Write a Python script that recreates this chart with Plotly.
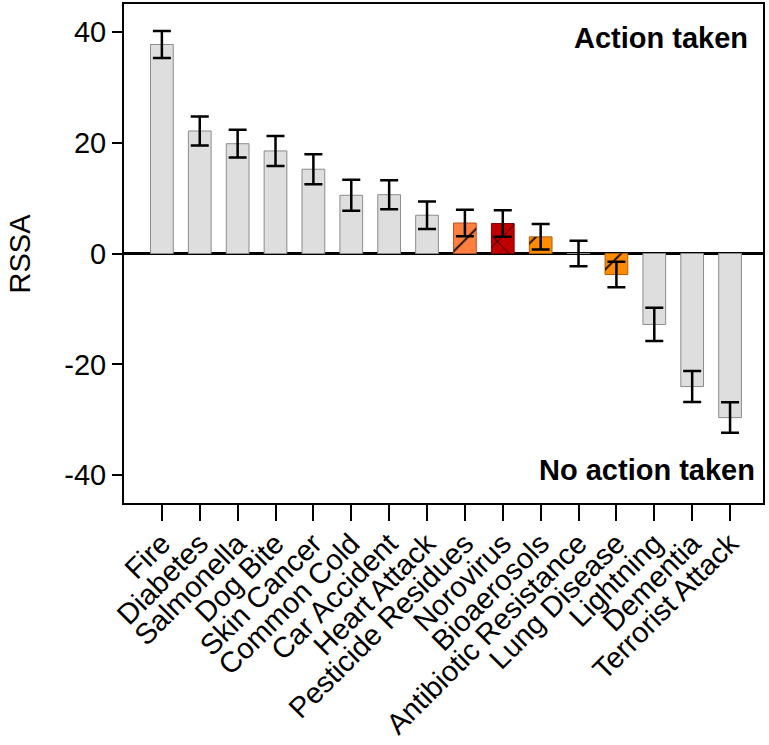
import plotly.graph_objects as go

categories = ["Fire", "Diabetes", "Salmonella", "Dog Bite", "Skin Cancer", "Common Cold",
              "Car Accident", "Heart Attack", "Pesticide Residues", "Norovirus", "Bioaerosols",
              "Antibiotic Resistance", "Lung Disease", "Lightning", "Dementia", "Terrorist Attack"]
values = [37.7, 22.1, 19.8, 18.5, 15.2, 10.5, 10.6, 6.9, 5.5, 5.4, 3.0, 0.0, -3.8, -12.8, -24.0, -29.6]
errors = [2.45, 2.6, 2.5, 2.7, 2.7, 2.8, 2.6, 2.5, 2.4, 2.4, 2.3, 2.3, 2.3, 3.0, 2.8, 2.75]
fill_colors = ["#DEDEDE"] * 8 + ["#FF7F3F", "#C00000", "#FF8C00", "#DEDEDE", "#FF8C00"] + ["#DEDEDE"] * 3
line_colors = ["#8C8C8C"] * 8 + ["#B0502A", "#800000", "#B06000", "#8C8C8C", "#B06000"] + ["#8C8C8C"] * 3
patterns = [""] * 8 + ["/", "x", "/", "", "/"] + [""] * 3

FONT = "Liberation Sans, Arial, sans-serif"
FS = 29
xs = list(range(len(categories)))

fig = go.Figure()
# base coloured bars with error bars
fig.add_trace(go.Bar(
    x=xs, y=values, width=0.6,
    marker=dict(color=fill_colors, line=dict(color=line_colors, width=1)),
    error_y=dict(type="data", array=errors, color="black", thickness=2.5, width=9),
    showlegend=False, hoverinfo="skip",
))
# hatch overlay (transparent fill, black hatch lines)
fig.add_trace(go.Bar(
    x=xs, y=values, width=0.6,
    marker=dict(
        color="rgba(0,0,0,0)",
        line=dict(width=0),
        pattern=dict(shape=patterns, fgcolor=["#000000"] * len(xs), bgcolor="rgba(0,0,0,0)",
                     fgopacity=1, size=24, solidity=0.07, fillmode="overlay"),
    ),
    showlegend=False, hoverinfo="skip",
))

fig.update_layout(
    width=769, height=745,
    barmode="overlay",
    margin=dict(l=124, r=6, t=4, b=242),
    plot_bgcolor="white", paper_bgcolor="white",
    font=dict(family=FONT, size=FS, color="black"),
    xaxis=dict(
        range=[-1.0, 15.87],
        tickmode="array",
        tickvals=xs,
        ticktext=categories,
        tickangle=-45,
        ticks="outside", ticklen=16, tickwidth=2, tickcolor="black",
        ticklabelstandoff=-6,
        showline=True, linewidth=2, linecolor="black", mirror=True,
        showgrid=False, zeroline=False, automargin=False,
        tickfont=dict(family=FONT, size=FS),
    ),
    yaxis=dict(
        range=[-45, 45],
        tickvals=[-40, -20, 0, 20, 40],
        ticktext=["-40", "-20", "0", "20", "40"],
        ticks="outside", ticklen=10, tickwidth=2, tickcolor="black",
        showline=True, linewidth=2, linecolor="black", mirror=True,
        showgrid=False, zeroline=True, zerolinecolor="black", zerolinewidth=2.5,
        automargin=False,
        tickfont=dict(family=FONT, size=FS),
    ),
    annotations=[
        dict(text="RSSA", xref="paper", yref="paper", x=0, y=0.5, xanchor="center", yanchor="middle",
             xshift=-105, textangle=-90, showarrow=False, font=dict(family=FONT, size=FS)),
        dict(text="<b>Action taken</b>", xref="paper", yref="paper", x=1, y=1, xanchor="right",
             yanchor="middle", xshift=-13, yshift=-34, showarrow=False, font=dict(family=FONT, size=FS)),
        dict(text="<b>No action taken</b>", xref="paper", yref="paper", x=1, y=0, xanchor="right",
             yanchor="middle", xshift=-6, yshift=33, showarrow=False, font=dict(family=FONT, size=FS)),
    ],
)

fig.write_html("out.html", config={"displayModeBar": False},
               post_script="document.body.style.margin='0';")
